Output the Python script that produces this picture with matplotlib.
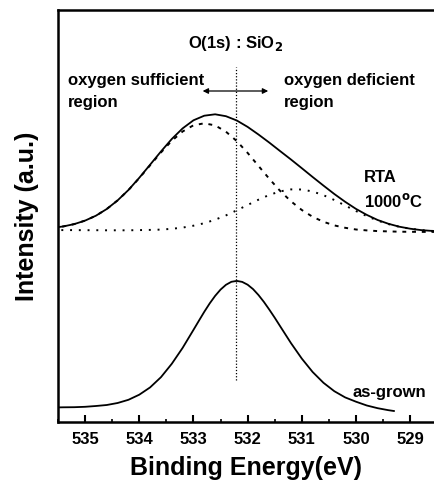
import matplotlib
matplotlib.use("Agg")
import matplotlib.pyplot as plt
from matplotlib.ticker import MultipleLocator

plt.rcParams['font.family'] = ['Liberation Sans', 'DejaVu Sans']

# binding energy grid (eV)
energy = [535.6, 535.4, 535.2, 535.0, 534.8, 534.6, 534.4, 534.2, 534.0, 533.8,
          533.6, 533.4, 533.2, 533.0, 532.8, 532.6, 532.4, 532.2, 532.0, 531.8,
          531.6, 531.4, 531.2, 531.0, 530.8, 530.6, 530.4, 530.2, 530.0, 529.8,
          529.6, 529.4, 529.2, 529.0, 528.8, 528.6, 528.4]

# as-grown spectrum (ends at 529.3 eV)
asgrown_energy = [535.6, 535.4, 535.2, 535.0, 534.8, 534.6, 534.4, 534.2, 534.0, 533.8,
                  533.6, 533.4, 533.2, 533.0, 532.9, 532.8, 532.7, 532.6, 532.5, 532.4,
                  532.3, 532.2, 532.1, 532.0, 531.9, 531.8, 531.7, 531.6, 531.5, 531.4,
                  531.2, 531.0, 530.8, 530.6, 530.4, 530.2, 530.0, 529.8, 529.6, 529.4,
                  529.3]
asgrown = [14.5, 14.7, 14.8, 15.2, 16.0, 17.0, 19.0, 22.2, 27.3, 34.6,
           44.8, 58.2, 74.1, 92.1, 101.2, 110.2, 118.6, 126.1, 132.4, 137.2,
           140.2, 141.1, 140.1, 137.3, 132.9, 127.0, 120.1, 112.4, 104.3, 95.8,
           78.9, 63.4, 50.0, 39.2, 30.8, 24.6, 20.3, 16.5, 13.8, 11.8,
           11.0]

# RTA 1000C spectrum and its two fitted components
rta_total = [194.1, 195.6, 197.9, 201.4, 206.3, 213.0, 221.6, 232.0, 244.2, 257.3,
             270.5, 283.0, 293.6, 301.7, 306.3, 307.7, 305.8, 301.5, 295.1, 287.5,
             279.4, 270.9, 262.5, 253.8, 245.0, 236.4, 228.0, 220.2, 213.1, 207.1,
             202.0, 198.2, 195.3, 193.3, 191.9, 191.1, 190.6]
rta_sufficient = [194.1, 195.6, 197.9, 201.4, 206.3, 213.0, 221.6, 231.9, 243.9, 256.7,
                  269.5, 281.2, 290.5, 296.7, 298.7, 296.6, 290.3, 280.9, 269.1, 256.1,
                  243.2, 231.1, 220.7, 212.0, 205.2, 200.2, 196.6, 194.2, 192.5, 191.6,
                  190.9, 190.6, 190.3, 190.2, 190.1, 190.1, 190.0]
rta_deficient = [192.0, 191.9, 191.9, 191.8, 191.8, 191.7, 191.7, 191.7, 191.9, 192.1,
                 192.4, 193.2, 194.4, 196.3, 198.8, 202.3, 206.6, 211.7, 217.0, 222.3,
                 227.1, 230.6, 232.6, 232.5, 230.5, 226.8, 222.0, 216.5, 211.0, 205.9,
                 201.4, 197.9, 195.2, 193.3, 191.9, 191.1, 190.6]

peak_position = 532.22
xticks = [535, 534, 533, 532, 531, 530, 529]

fig = plt.figure(figsize=(4.34, 4.87), dpi=100)
ax = fig.add_axes([58 / 434, 65 / 487, 376 / 434, 412 / 487])

ax.plot(asgrown_energy, asgrown, color='black', lw=1.3)
ax.plot(energy, rta_total, color='black', lw=1.3)
ax.plot(energy, rta_sufficient, color='black', lw=1.4, linestyle=(0, (2, 3)))
ax.plot(energy, rta_deficient, color='black', lw=1.4, linestyle=(0, (1, 3.5)))

ax.plot([peak_position, peak_position], [42, 355], color='black', lw=0.9,
        linestyle=(0, (1, 1.5)))

ax.annotate('', xy=(531.62, 331), xytext=(532.83, 331),
            arrowprops=dict(arrowstyle='<|-|>', color='black', lw=0.9,
                            mutation_scale=8, shrinkA=0, shrinkB=0))

txt = dict(fontsize=12, fontweight='bold', va='center')
ax.text(peak_position, 379, 'O(1s) : SiO$_\\mathbf{2}$', ha='center', **txt)
ax.text(535.32, 342, 'oxygen sufficient', ha='left', **txt)
ax.text(535.32, 320, 'region', ha='left', **txt)
ax.text(531.33, 342, 'oxygen deficient', ha='left', **txt)
ax.text(531.33, 320, 'region', ha='left', **txt)
ax.text(529.85, 244, 'RTA', ha='left', **txt)
ax.text(529.85, 221, '1000$^\\mathbf{o}$C', ha='left', **txt)
ax.text(530.06, 30, 'as-grown', ha='left', **txt)

ax.set_xlim(535.5, 528.56)
ax.set_ylim(0, 412)

ax.set_xticks(xticks)
ax.set_xticklabels([str(t) for t in xticks], fontsize=12, fontweight='bold')
ax.xaxis.set_minor_locator(MultipleLocator(0.5))
ax.tick_params(axis='x', which='major', direction='in', length=5, width=1.5, pad=7)
ax.tick_params(axis='x', which='minor', direction='in', length=2.5, width=1.2)
ax.set_yticks([])

for side in ['left', 'bottom', 'top']:
    ax.spines[side].set_linewidth(1.8)
ax.spines['right'].set_visible(False)

ax.set_xlabel('Binding Energy(eV)', fontsize=18, fontweight='bold', labelpad=7)
ax.set_ylabel('Intensity (a.u.)', fontsize=18, fontweight='bold', labelpad=13.5)

fig.savefig('out.png', dpi=100)
